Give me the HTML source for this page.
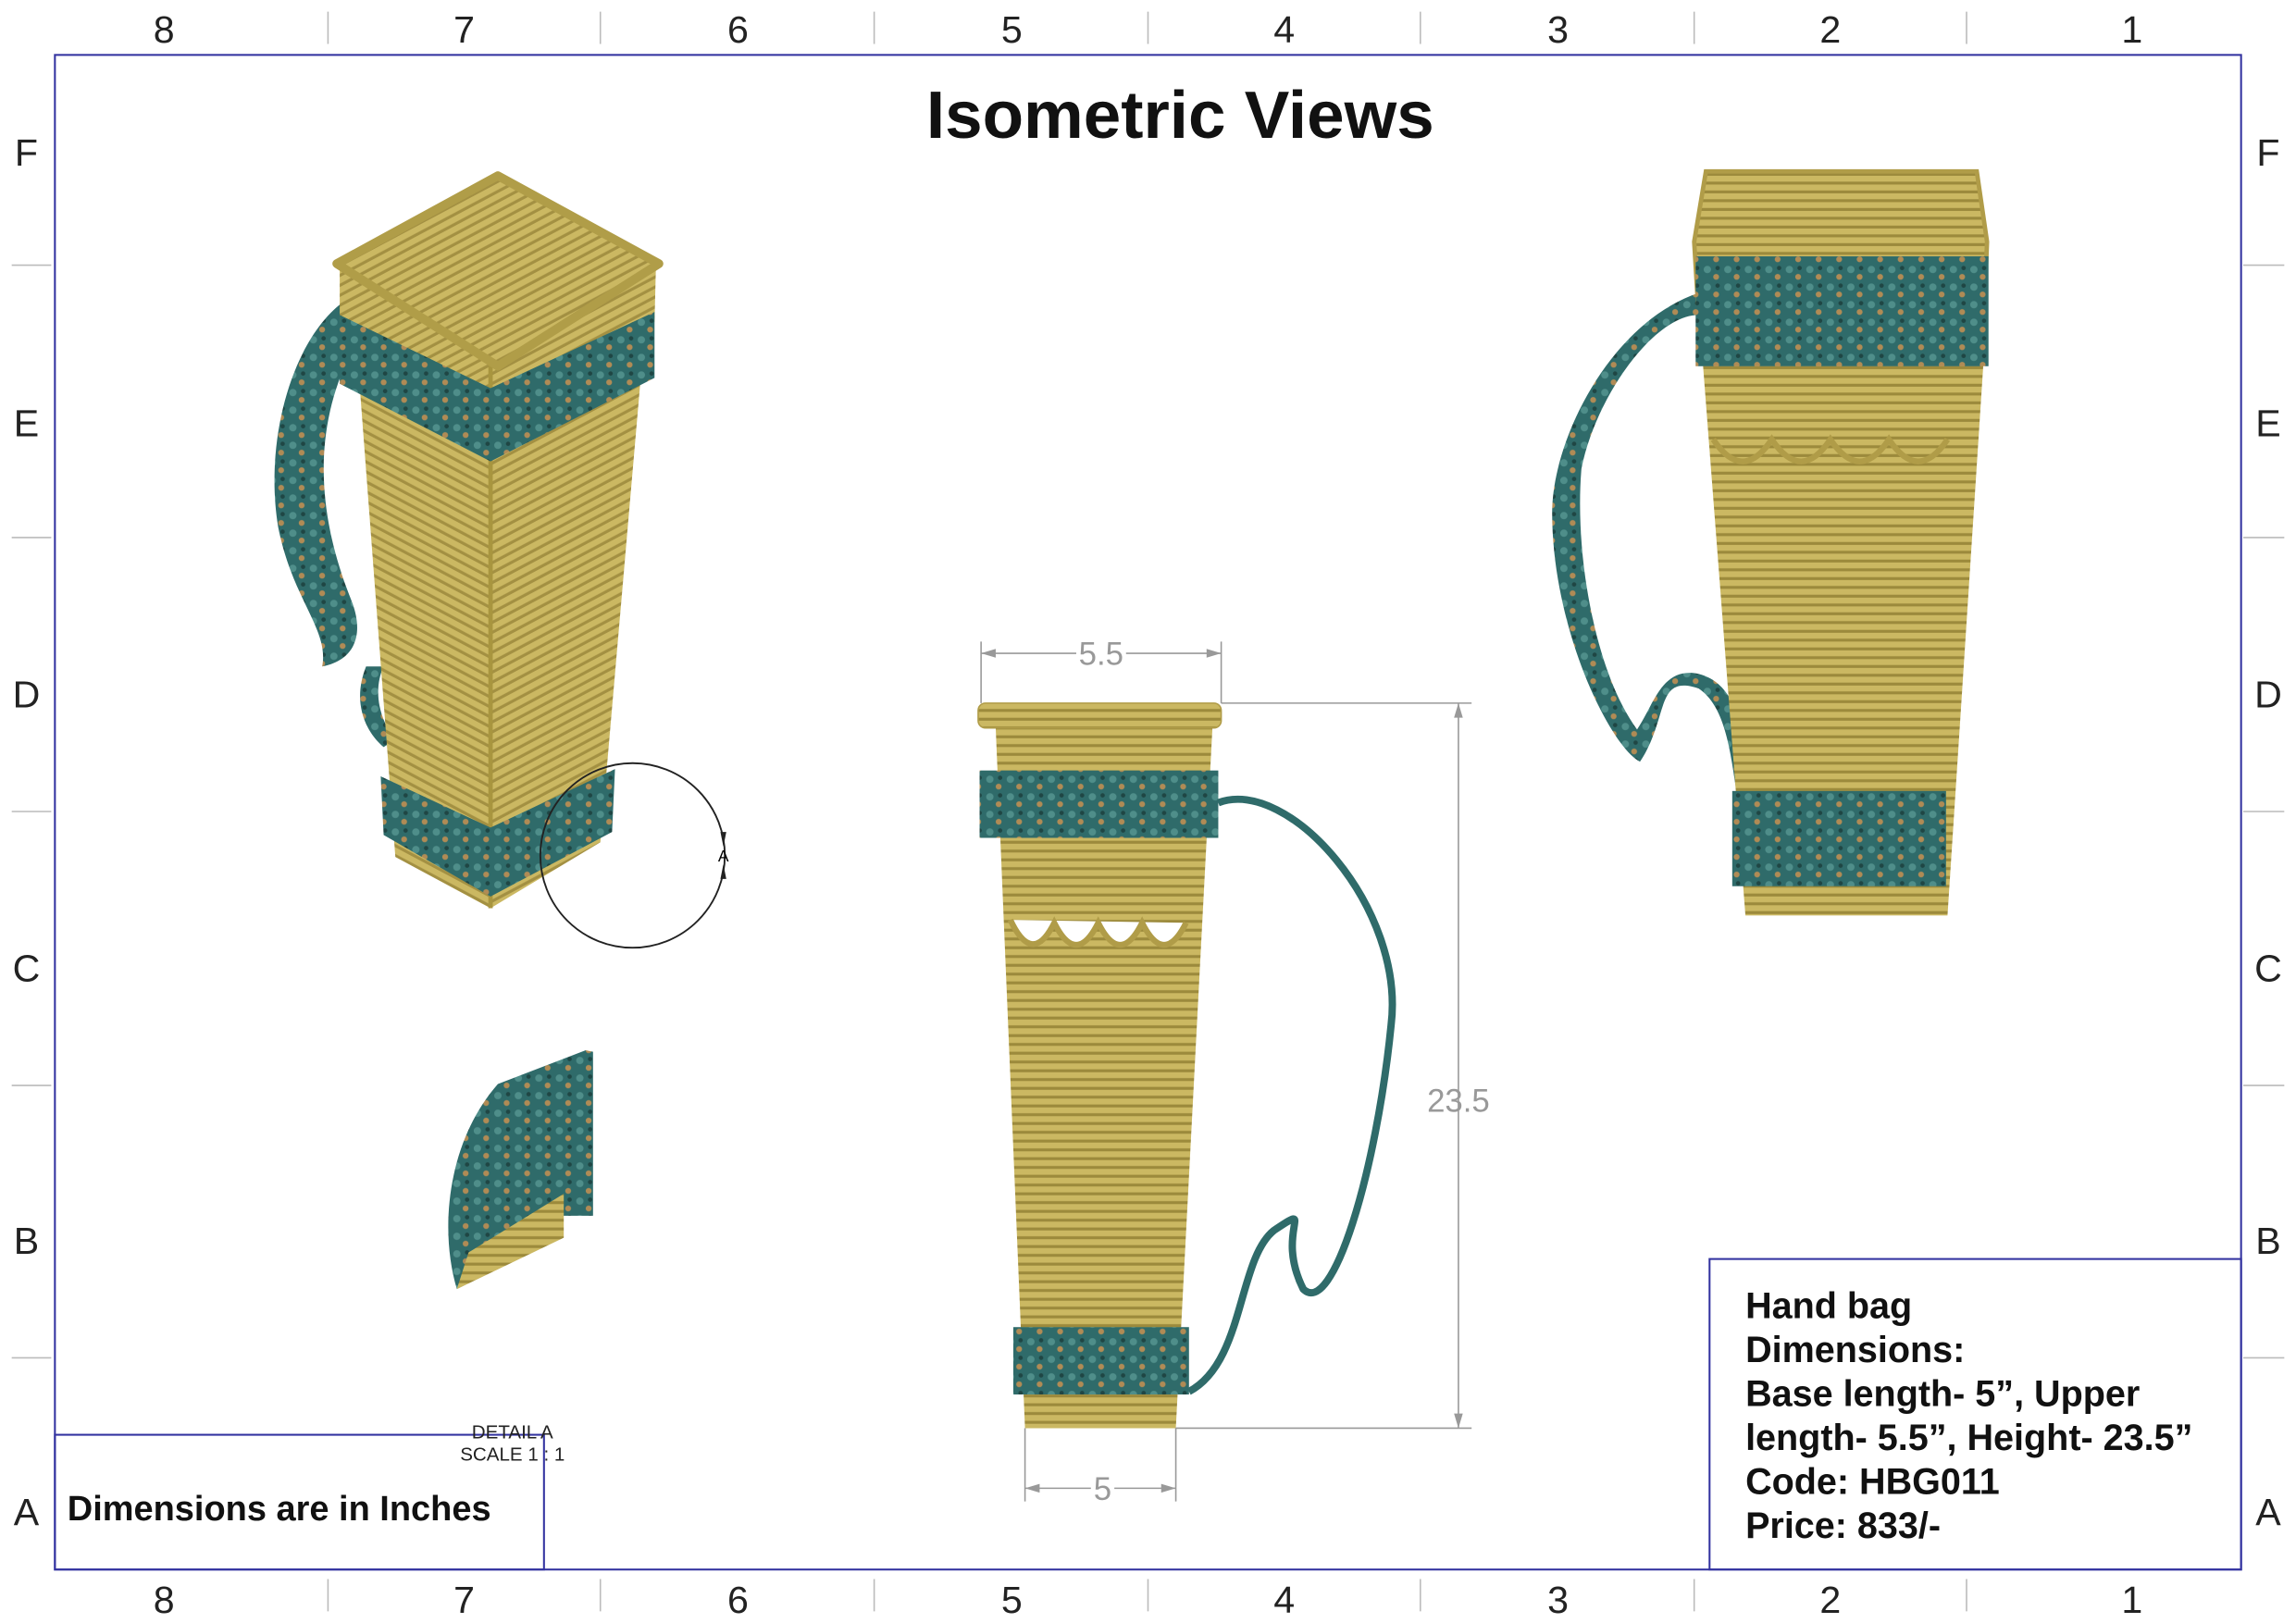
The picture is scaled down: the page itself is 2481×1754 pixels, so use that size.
<!DOCTYPE html>
<html><head><meta charset="utf-8"><style>
html,body{margin:0;padding:0;background:#fff;overflow:hidden}
#w{width:1568px;height:1108px;transform:scale(1.58227,1.58303);transform-origin:0 0;position:relative}
svg{position:absolute;left:0;top:0}
text{font-family:"Liberation Sans",sans-serif}
</style></head><body><div id="w">
<svg width="1568" height="1108" viewBox="0 0 1568 1108">
<defs>
<pattern id="hs" width="8" height="6" patternUnits="userSpaceOnUse"><rect width="8" height="6" fill="#cbb862"/><rect y="4" width="8" height="2" fill="#9c8a3c"/></pattern>
<pattern id="ds" width="8" height="6" patternUnits="userSpaceOnUse" patternTransform="rotate(-28)"><rect width="8" height="6" fill="#cbb862"/><rect y="4" width="8" height="2" fill="#a39042"/></pattern>
<pattern id="ds2" width="8" height="6" patternUnits="userSpaceOnUse" patternTransform="rotate(28)"><rect width="8" height="6" fill="#cbb862"/><rect y="4" width="8" height="2" fill="#a39042"/></pattern>
<pattern id="tl" width="14" height="12" patternUnits="userSpaceOnUse"><rect width="14" height="12" fill="#2f6b6a"/><circle cx="4" cy="4" r="2.5" fill="#4f8e8a"/><circle cx="10" cy="9" r="2" fill="#b08b55"/><circle cx="11" cy="3" r="1.5" fill="#1f4644"/></pattern>
</defs>
<g stroke="#3333a0" stroke-width="1.3" fill="none">
<rect x="37.5" y="37.5" width="1493" height="1034"/>
<rect x="37.5" y="979.5" width="334" height="92"/>
<rect x="1167.5" y="859.5" width="363" height="212"/>
</g>
<g stroke="#bbb" stroke-width="1">
<path d="M224 8V30M410 8V30M597 8V30M784 8V30M970 8V30M1157 8V30M1343 8V30M224 1078V1100M410 1078V1100M597 1078V1100M784 1078V1100M970 1078V1100M1157 1078V1100M1343 1078V1100M8 181H35M8 367H35M8 554H35M8 741H35M8 927H35M1532 181H1560M1532 367H1560M1532 554H1560M1532 741H1560M1532 927H1560"/>
</g>
<g font-size="26" fill="#222" text-anchor="middle">
<text x="112" y="29">8</text><text x="317" y="29">7</text><text x="504" y="29">6</text><text x="691" y="29">5</text><text x="877" y="29">4</text><text x="1064" y="29">3</text><text x="1250" y="29">2</text><text x="1456" y="29">1</text>
<text x="112" y="1101">8</text><text x="317" y="1101">7</text><text x="504" y="1101">6</text><text x="691" y="1101">5</text><text x="877" y="1101">4</text><text x="1064" y="1101">3</text><text x="1250" y="1101">2</text><text x="1456" y="1101">1</text>
<text x="18" y="113">F</text><text x="18" y="298">E</text><text x="18" y="483">D</text><text x="18" y="670">C</text><text x="18" y="856">B</text><text x="18" y="1041">A</text>
<text x="1549" y="113">F</text><text x="1549" y="298">E</text><text x="1549" y="483">D</text><text x="1549" y="670">C</text><text x="1549" y="856">B</text><text x="1549" y="1041">A</text>
</g>
<text x="806" y="94" font-size="46" font-weight="bold" text-anchor="middle" fill="#111">Isometric Views</text>
<text x="46" y="1038" font-size="24" font-weight="bold" fill="#111">Dimensions are in Inches</text>
<g font-size="25" font-weight="bold" fill="#111">
<text x="1192" y="900">Hand bag</text><text x="1192" y="930">Dimensions:</text><text x="1192" y="960">Base length- 5”, Upper</text><text x="1192" y="990">length- 5.5”, Height- 23.5”</text><text x="1192" y="1020">Code: HBG011</text><text x="1192" y="1050">Price: 833/-</text>
</g>
<g font-size="13" fill="#222" text-anchor="middle"><text x="350" y="982">DETAIL A</text><text x="350" y="997">SCALE 1 : 1</text></g>

<!-- left bag -->
<path d="M236 205 C200 230 180 300 190 360 C200 410 225 430 220 455 C245 450 248 430 240 410 C220 360 210 300 240 240 Z" fill="url(#tl)"/>
<path d="M250 455 C240 480 250 500 262 510 L270 505 C258 490 255 470 262 455Z" fill="url(#tl)"/>
<polygon points="245,255 335,300 335,620 270,585" fill="url(#ds2)"/>
<polygon points="335,300 440,230 410,575 335,620" fill="url(#ds)"/>
<polygon points="232,180 340,250 448,180 447,220 335,270 232,220" fill="url(#ds)"/>
<path d="M335 250V620" stroke="#a8953f" stroke-width="3"/>
<polygon points="230,180 340,120 450,180 340,250" fill="url(#ds)" stroke="#b09d48" stroke-width="6" stroke-linejoin="round"/>
<polygon points="232,215 335,265 447,213 447,258 335,315 232,262" fill="url(#tl)"/>
<polygon points="260,530 335,565 420,525 418,568 335,612 262,570" fill="url(#tl)"/>
<circle cx="432" cy="584" r="63" fill="none" stroke="#222" stroke-width="1.2"/>
<text x="494" y="588" font-size="11" text-anchor="middle">A</text>
<path d="M492 568l2 10 2-10zM492 600l2-10 2 10z" fill="#222"/>
<!-- detail -->
<path d="M400 717 L405 718 L405 830 L385 830 L382 845 L312 880 C300 840 305 780 340 740 Z" fill="url(#tl)"/>
<path d="M312 880 L385 845 L385 815 L320 855Z" fill="url(#hs)"/>

<!-- center bag -->
<polygon points="680,497 828,497 803,975 700,975" fill="url(#hs)"/>
<path d="M690 628 Q705 660 720 630 Q735 660 750 630 Q765 660 780 630 Q795 660 810 630" stroke="#b09c48" stroke-width="4" fill="#fff"/>
<rect x="668" y="480" width="166" height="17" rx="5" fill="url(#hs)" stroke="#b09c48"/>
<rect x="669" y="526" width="163" height="46" fill="url(#tl)"/>
<rect x="692" y="906" width="120" height="46" fill="url(#tl)"/>
<path d="M832 548 C880 530 960 620 950 700 C940 800 910 900 890 880 C870 840 900 820 870 840 C845 860 850 930 812 950" stroke="#2f6b6a" stroke-width="5" fill="none"/>
<g stroke="#999" stroke-width="1" fill="none">
<path d="M670 480V438M834 480V438M670 446H834M834 480H1005M803 975H1005M996 480V975M700 975V1025M803 975V1025M700 1016H803"/>
</g>
<g fill="#999"><path d="M670 446l10-3v6zM834 446l-10-3v6zM996 480l-3 10h6zM996 975l-3-10h6zM700 1016l10-3v6zM803 1016l-10-3v6z"/></g>
<g font-size="22" fill="#999" text-anchor="middle"><rect x="735" y="434" width="34" height="22" fill="#fff"/><text x="752" y="454">5.5</text><text x="996" y="759">23.5</text><rect x="745" y="1005" width="16" height="22" fill="#fff"/><text x="753" y="1024">5</text></g>

<!-- right bag -->
<path d="M1160 200 C1100 220 1060 300 1060 350 C1060 430 1100 510 1120 520 C1140 490 1130 460 1160 470 C1190 490 1180 560 1200 590 L1200 570 C1190 540 1200 470 1160 460 C1135 455 1130 480 1118 498 C1090 460 1075 380 1080 320 C1090 270 1130 215 1160 215Z" fill="url(#tl)"/>
<polygon points="1160,210 1357,210 1330,625 1192,625" fill="url(#hs)"/>
<path d="M1170 300 Q1190 330 1210 300 Q1230 330 1250 300 Q1270 330 1290 300 Q1310 330 1330 300" stroke="#b09c48" stroke-width="4" fill="none"/>
<path d="M1157 165 L1165 117 L1350 117 L1357 165 L1355 215 L1160 215Z" fill="url(#hs)" stroke="#b09c48" stroke-width="3"/>
<rect x="1158" y="175" width="200" height="75" fill="url(#tl)"/>
<rect x="1183" y="540" width="146" height="65" fill="url(#tl)"/>
</svg></div></body></html>
